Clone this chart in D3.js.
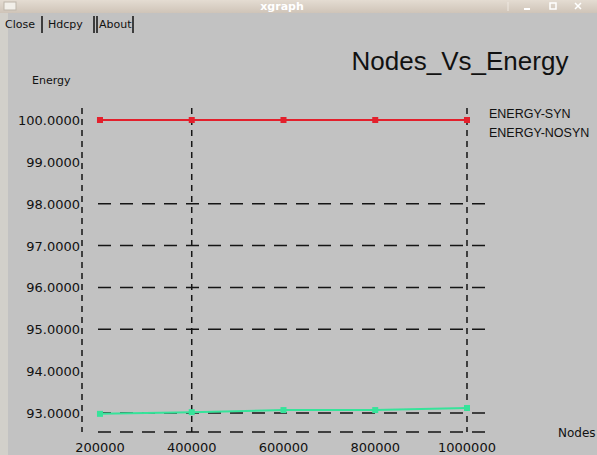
<!DOCTYPE html>
<html>
<head>
<meta charset="utf-8">
<script src="https://cdnjs.cloudflare.com/ajax/libs/d3/7.8.5/d3.min.js"></script>
<style>
  body { margin: 0; background: #c2c2c2; }
  svg { display: block; }
</style>
</head>
<body>
<div id="chart"></div>
<script>
var nodes = [200000, 400000, 600000, 800000, 1000000];
var energySyn = [100.0, 100.0, 100.0, 100.0, 100.0];
var energyNosyn = [92.98, 93.02, 93.07, 93.07, 93.12];
var yTicks = [100, 99, 98, 97, 96, 95, 94, 93];
var yGrid = [98, 97, 96, 95, 93];
var xGrid = [400000, 1000000];
var seriesNames = ["ENERGY-SYN", "ENERGY-NOSYN"];

var W = 597, H = 455;
var svg = d3.select("#chart").append("svg")
    .attr("width", W)
    .attr("height", H);

// window background + left strip
svg.append("rect").attr("width", W).attr("height", H).attr("fill", "#c2c2c2");
svg.append("rect").attr("width", 8).attr("height", H).attr("fill", "#d2d0ca");

// title bar
var grad = svg.append("defs").append("linearGradient").attr("id", "tb")
    .attr("x1", 0).attr("x2", 0).attr("y1", 0).attr("y2", 1);
grad.append("stop").attr("offset", "0%").attr("stop-color", "#e4dcd2");
grad.append("stop").attr("offset", "100%").attr("stop-color", "#cfc4b8");
svg.append("rect").attr("width", W).attr("height", 13).attr("fill", "url(#tb)");
svg.append("rect").attr("x", 4).attr("y", 2).attr("width", 12).attr("height", 8)
    .attr("fill", "#f2efe9").attr("stroke", "#bdb5aa");
svg.append("text").attr("x", 282).attr("y", 10).attr("text-anchor", "middle")
    .style("font", "bold 11px 'DejaVu Sans'").attr("fill", "#ffffff").text("xgraph");
[527, 553, 578].forEach(function(x, i) {
  var g = svg.append("g").attr("transform", "translate(" + x + ",6)");
  if (i == 0) g.append("line").attr("x1", -3).attr("x2", 3).attr("y1", 3).attr("y2", 3).attr("stroke", "#fff").attr("stroke-width", 2);
  if (i == 1) g.append("rect").attr("x", -3).attr("y", -3).attr("width", 6).attr("height", 6).attr("fill", "none").attr("stroke", "#fff").attr("stroke-width", 1.5);
  if (i == 2) g.append("path").attr("d", "M-3,-3L3,3M3,-3L-3,3").attr("stroke", "#fff").attr("stroke-width", 1.5);
});
svg.append("line").attr("x1", 508).attr("x2", 508).attr("y1", 2).attr("y2", 11).attr("stroke", "#efe9e2");

// buttons
var btnFont = "11px 'DejaVu Sans'";
[["Close", 5], ["Hdcpy", 48], ["About", 99]].forEach(function(b) {
  svg.append("text").attr("x", b[1]).attr("y", 28).style("font", btnFont).attr("fill", "#111").text(b[0]);
});
[42, 94, 97, 133].forEach(function(x) {
  svg.append("line").attr("x1", x).attr("x2", x).attr("y1", 16).attr("y2", 33)
      .attr("stroke", "#111").attr("stroke-width", 1.5);
});

// title
svg.append("text").attr("x", 460).attr("y", 70).attr("text-anchor", "middle")
    .style("font", "26px 'Liberation Sans'").attr("fill", "#111").text("Nodes_Vs_Energy");

// scales
var x = d3.scaleLinear().domain([160800, 1043600]).range([82, 487]);
var y = d3.scaleLinear().domain([93, 100]).range([413, 120]);
var plotTop = 108, plotBottom = 432;

var dash = "#151515";
// left frame
svg.append("line").attr("x1", 82).attr("x2", 82).attr("y1", plotTop).attr("y2", plotBottom)
    .attr("stroke", dash).attr("stroke-width", 1.5).attr("stroke-dasharray", "6,5");
// horizontal grid
svg.selectAll(".hg").data(yGrid.concat([y.invert(plotBottom)])).enter().append("line")
    .attr("class", "hg")
    .attr("x1", 98).attr("x2", 488)
    .attr("y1", function(d) { return y(d); }).attr("y2", function(d) { return y(d); })
    .attr("stroke", dash).attr("stroke-width", 1.5).attr("stroke-dasharray", "13,9");
// vertical grid
svg.selectAll(".vg").data(xGrid).enter().append("line")
    .attr("class", "vg")
    .attr("x1", function(d) { return x(d); }).attr("x2", function(d) { return x(d); })
    .attr("y1", plotTop).attr("y2", plotBottom)
    .attr("stroke", dash).attr("stroke-width", 1.5).attr("stroke-dasharray", "6,5");

// tick labels
svg.selectAll(".yl").data(yTicks).enter().append("text")
    .attr("x", 80).attr("y", function(d) { return y(d) + 5; })
    .attr("text-anchor", "end")
    .style("font", "13px 'DejaVu Sans'").attr("fill", "#111")
    .text(function(d) { return d.toFixed(4); });
svg.selectAll(".xl").data(nodes).enter().append("text")
    .attr("x", function(d) { return x(d); }).attr("y", 452)
    .attr("text-anchor", "middle")
    .style("font", "13px 'DejaVu Sans'").attr("fill", "#111")
    .text(function(d) { return d; });

// axis titles
svg.append("text").attr("x", 32).attr("y", 84).style("font", "11px 'DejaVu Sans'").attr("fill", "#111").text("Energy");
svg.append("text").attr("x", 558).attr("y", 437).style("font", "12px 'DejaVu Sans'").attr("fill", "#111").text("Nodes");

// series
var colors = ["#e3202c", "#36e39a"];
[energySyn, energyNosyn].forEach(function(vals, i) {
  var pts = nodes.map(function(n, j) { return [n, vals[j]]; });
  var line = d3.line().x(function(d) { return x(d[0]); }).y(function(d) { return y(d[1]); });
  svg.append("path").datum(pts).attr("d", line)
      .attr("fill", "none").attr("stroke", colors[i]).attr("stroke-width", 2);
  svg.selectAll(".m" + i).data(pts).enter().append("rect")
      .attr("x", function(d) { return x(d[0]) - 3; })
      .attr("y", function(d) { return y(d[1]) - 3; })
      .attr("width", 6).attr("height", 6)
      .attr("fill", colors[i]);
});

// legend
seriesNames.forEach(function(s, i) {
  svg.append("text").attr("x", 489).attr("y", 118 + i * 19)
      .style("font", "12.5px 'Liberation Sans'").attr("fill", "#111").text(s);
});
</script>
</body>
</html>
